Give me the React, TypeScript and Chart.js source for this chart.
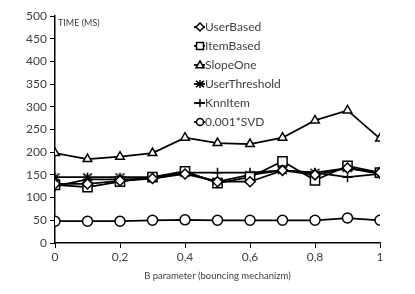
import React, { useEffect, useRef } from "react";
import { Chart, registerables } from "chart.js";

Chart.register(...registerables);

const xValues = [0, 0.1, 0.2, 0.3, 0.4, 0.5, 0.6, 0.7, 0.8, 0.9, 1];
const userBased = [130, 130, 137, 142, 152, 135, 135, 160, 150, 165, 155];
const itemBased = [128, 123, 135, 145, 158, 132, 145, 180, 138, 170, 155];
const slopeOne = [198, 185, 190, 198, 232, 220, 218, 232, 270, 292, 230];
const userThreshold = [145, 145, 145, 145, 155, 135, 150, 160, 155, 165, 152];
const knnItem = [125, 140, 140, 142, 155, 155, 155, 160, 155, 145, 152];
const svd = [48, 48, 48, 50, 51, 50, 50, 50, 50, 55, 50];
const seriesNames = ["UserBased", "ItemBased", "SlopeOne", "UserThreshold", "KnnItem", "0.001*SVD"];
const yAxisLabel = "TIME (MS)";
const xAxisLabel = "B parameter (bouncing mechanizm)";

const FONT = "Lato, 'Open Sans', sans-serif";
const TEXT = "#404040";

function drawMarker(ctx: CanvasRenderingContext2D, style: string, x: number, y: number, r: number) {
  ctx.beginPath();
  switch (style) {
    case "rectRot":
      ctx.moveTo(x - r, y); ctx.lineTo(x, y - r); ctx.lineTo(x + r, y); ctx.lineTo(x, y + r); ctx.closePath();
      ctx.fill(); ctx.stroke(); break;
    case "rect":
      ctx.rect(x - r, y - r, 2 * r, 2 * r); ctx.fill(); ctx.stroke(); break;
    case "triangle":
      ctx.moveTo(x, y - r); ctx.lineTo(x + r, y + r * 0.7); ctx.lineTo(x - r, y + r * 0.7); ctx.closePath();
      ctx.fill(); ctx.stroke(); break;
    case "asterisk":
      ctx.moveTo(x - r, y - r * 0.8); ctx.lineTo(x + r, y + r * 0.8);
      ctx.moveTo(x + r, y - r * 0.8); ctx.lineTo(x - r, y + r * 0.8);
      ctx.moveTo(x, y - r); ctx.lineTo(x, y + r);
      ctx.stroke(); break;
    case "cross":
      ctx.moveTo(x - r, y); ctx.lineTo(x + r, y);
      ctx.moveTo(x, y - r); ctx.lineTo(x, y + r);
      ctx.stroke(); break;
    default:
      ctx.arc(x, y, r, 0, Math.PI * 2); ctx.fill(); ctx.stroke();
  }
}

function makeAsterisk(r: number): HTMLCanvasElement {
  const c = document.createElement("canvas");
  const size = Math.ceil(r * 2 + 4);
  c.width = size; c.height = size;
  const ctx = c.getContext("2d")!;
  ctx.strokeStyle = "#000";
  ctx.lineWidth = 1.6;
  drawMarker(ctx, "asterisk", size / 2, size / 2, r);
  return c;
}

export default function App() {
  const ref = useRef<HTMLCanvasElement | null>(null);
  useEffect(() => {
    const series = [userBased, itemBased, slopeOne, userThreshold, knnItem, svd];
    const styles: any[] = [
      { pointStyle: "rectRot", pointRadius: 5 },
      { pointStyle: "rect", pointRadius: 6.5 },
      { pointStyle: "triangle", pointRadius: 5 },
      { pointStyle: makeAsterisk(4.5), pointRadius: 5, legendStyle: "asterisk" },
      { pointStyle: "cross", pointRadius: 5 },
      { pointStyle: "circle", pointRadius: 5 },
    ];
    const datasets = series.map((s, i) => ({
      label: seriesNames[i],
      data: s.map((v, j) => ({ x: xValues[j], y: v })),
      borderColor: "#000",
      backgroundColor: "#fff",
      borderWidth: 1.75,
      pointBorderColor: "#000",
      pointBackgroundColor: "#fff",
      pointBorderWidth: 1.5,
      ...styles[i],
    }));

    const legendPlugin = {
      id: "customLegend",
      afterDraw(chart: any) {
        const ctx = chart.ctx;
        const area = chart.chartArea;
        ctx.save();
        ctx.fillStyle = TEXT;
        ctx.textBaseline = "middle";
        ctx.textAlign = "left";
        ctx.font = `9px ${FONT}`;
        ctx.fillText(yAxisLabel, area.left + 3, area.top + 7);
        ctx.font = `12px ${FONT}`;
        const lx = area.left + 145;
        const ly0 = area.top + 11;
        chart.data.datasets.forEach((ds: any, i: number) => {
          const y = ly0 + i * 19;
          ctx.strokeStyle = "#000";
          ctx.lineWidth = 1.75;
          ctx.beginPath();
          ctx.moveTo(lx - 6, y);
          ctx.lineTo(lx + 5, y);
          ctx.stroke();
          ctx.lineWidth = 1.5;
          ctx.fillStyle = "#fff";
          const style = ds.legendStyle || ds.pointStyle;
          const r = style === "rect" ? 3.5 : style === "circle" ? 3.5 : 4;
          drawMarker(ctx, style, lx, y, r);
          ctx.fillStyle = TEXT;
          ctx.fillText(ds.label, lx + 5, y);
        });
        ctx.restore();
      },
    };

    const chart = new Chart(ref.current!, {
      type: "line",
      data: { datasets },
      options: {
        animation: false,
        responsive: false,
        layout: { padding: { left: 0, right: 35, top: 16, bottom: 0 } },
        plugins: { legend: { display: false }, tooltip: { enabled: false } },
        scales: {
          x: {
            type: "linear",
            min: 0,
            max: 1,
            border: { color: "#000", width: 1.5 },
            grid: { drawOnChartArea: false, color: "#000", tickLength: 5 },
            ticks: {
              stepSize: 0.2,
              color: TEXT,
              font: { family: FONT, size: 12 },
              padding: 2,
              callback: (v: any) => String(Math.round(Number(v) * 10) / 10).replace(".", ","),
            },
            title: { display: true, text: xAxisLabel, color: TEXT, font: { family: FONT, size: 9.5 }, padding: { top: 0, bottom: 12 } },
            afterFit: (s: any) => { s.height = 51; },
          },
          y: {
            min: 0,
            max: 500,
            border: { color: "#000", width: 1.5 },
            grid: { drawOnChartArea: false, color: "#000", tickLength: 5 },
            ticks: { stepSize: 50, color: TEXT, font: { family: FONT, size: 12 }, padding: 3 },
            afterFit: (s: any) => { s.width = 55; },
          },
        },
      },
      plugins: [legendPlugin],
    } as any);
    return () => chart.destroy();
  }, []);
  return (
    <div style={{ position: "fixed", left: 0, top: 0, width: 415, height: 294, background: "#fff" }}>
      <canvas ref={ref} width={415} height={294} style={{ width: 415, height: 294 }} />
    </div>
  );
}
